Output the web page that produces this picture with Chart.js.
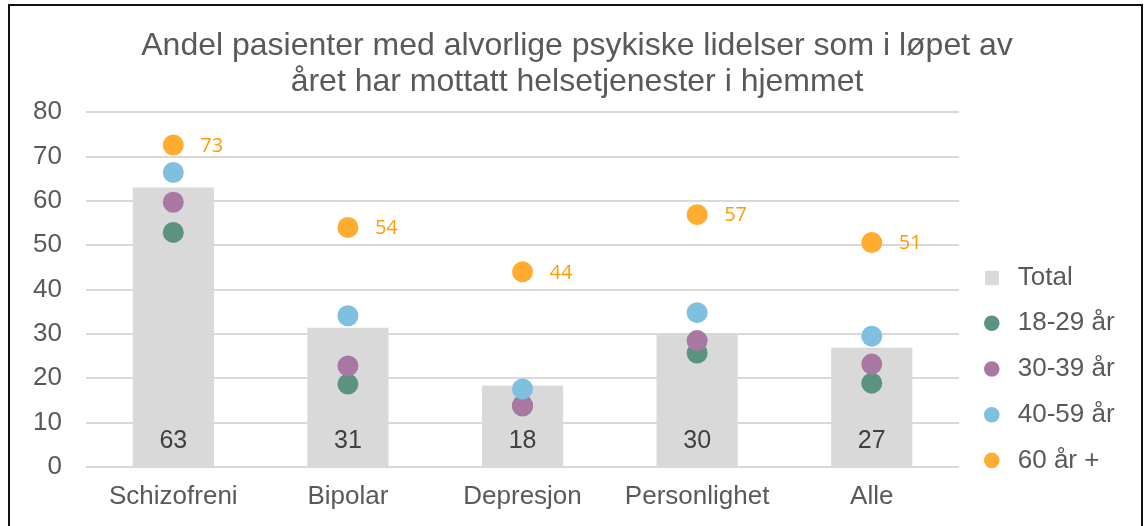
<!DOCTYPE html>
<html>
<head>
<meta charset="utf-8">
<script src="https://cdn.jsdelivr.net/npm/chart.js@4/dist/chart.umd.min.js"></script>
<style>
    body { margin: 0; background: #fff; overflow: hidden; }
    #frame {
        position: absolute;
        left: 8px;
        top: 4px;
        width: 1131px;
        height: 520px;
        border: 2px solid #111;
        background: #fff;
    }
</style>
</head>
<body>
<div id="frame"><canvas id="chart" width="1131" height="520"></canvas></div>
<script>
// Chart data
const categories = ['Schizofreni', 'Bipolar', 'Depresjon', 'Personlighet', 'Alle'];
const total = [63, 31.4, 18.4, 30.1, 26.9];
const age18to29 = [52.9, 18.7, 13.8, 25.7, 18.9];
const age30to39 = [59.7, 22.8, 13.8, 28.5, 23.2];
const age40to59 = [66.4, 34.1, 17.6, 34.8, 29.5];
const age60plus = [72.6, 54, 44, 56.9, 50.6];
const seriesNames = ['Total', '18-29 år', '30-39 år', '40-59 år', '60 år +'];
const titleLines = ['Andel pasienter med alvorlige psykiske lidelser som i løpet av',
                    'året har mottatt helsetjenester i hjemmet'];

const textGrey = '#595959';
const barGrey = '#d9d9d9';
Chart.defaults.font.family = "'Liberation Sans', Arial, sans-serif";
Chart.defaults.color = textGrey;

// Square legend marker for the bar series
const squareMarker = document.createElement('canvas');
squareMarker.width = 14;
squareMarker.height = 14;
squareMarker.getContext('2d').fillStyle = barGrey;
squareMarker.getContext('2d').fillRect(0, 0, 14, 14);

// Dot series, one per age group
function dotSeries(label, data, color, order) {
    return {
        type: 'line',
        label: label,
        data: data,
        showLine: false,
        backgroundColor: color,
        borderColor: color,
        pointBackgroundColor: color,
        pointBorderWidth: 0,
        pointRadius: 10.5,
        pointHoverRadius: 10.5,
        order: order
    };
}

// Draws the value labels: totals at the bar foot, 60+ beside its dot
const valueLabels = {
    id: 'valueLabels',
    afterDatasetsDraw(chart) {
        const ctx = chart.ctx;
        const yScale = chart.scales.y;
        ctx.save();

        const barMeta = chart.getDatasetMeta(0);
        ctx.font = "25px 'Liberation Sans', Arial, sans-serif";
        ctx.fillStyle = '#404040';
        ctx.textAlign = 'center';
        ctx.textBaseline = 'middle';
        barMeta.data.forEach((bar, i) => {
            ctx.fillText(Math.round(total[i]), bar.x, yScale.getPixelForValue(0) - 26);
        });

        const oldMeta = chart.getDatasetMeta(4);
        ctx.font = "20px 'Open Sans', 'Noto Sans', sans-serif";
        ctx.fillStyle = '#ff9c00';
        ctx.textAlign = 'left';
        oldMeta.data.forEach((pt, i) => {
            ctx.fillText(Math.round(age60plus[i]), pt.x + 27, pt.y + 1);
        });
        ctx.restore();
    }
};

new Chart(document.getElementById('chart'), {
    type: 'bar',
    data: {
        labels: categories,
        datasets: [
            {
                type: 'bar',
                label: seriesNames[0],
                data: total,
                backgroundColor: barGrey,
                barPercentage: 1,
                categoryPercentage: 0.465,
                order: 5
            },
            dotSeries(seriesNames[1], age18to29, '#5a9480', 4),
            dotSeries(seriesNames[2], age30to39, '#a878a3', 3),
            dotSeries(seriesNames[3], age40to59, '#7fc0de', 2),
            dotSeries(seriesNames[4], age60plus, '#ffad30', 1)
        ]
    },
    options: {
        responsive: false,
        animation: false,
        layout: { padding: { left: 19.4, right: 16.4, top: 0, bottom: 0 } },
        plugins: {
            title: {
                display: true,
                text: titleLines,
                color: textGrey,
                font: { size: 32, weight: 'normal', lineHeight: 1.12 },
                padding: { top: 22.5, bottom: 12 }
            },
            legend: {
                position: 'right',
                align: 'start',
                fullSize: true,
                title: {
                    display: true,
                    text: '',
                    font: { size: 12, lineHeight: 1.2 },
                    padding: { top: 224.5, bottom: 0 }
                },
                labels: {
                    usePointStyle: true,
                    boxHeight: 11,
                    padding: 19.7,
                    color: textGrey,
                    font: { size: 26 },
                    sort: (a, b) => a.datasetIndex - b.datasetIndex,
                    generateLabels(chart) {
                        const items = Chart.defaults.plugins.legend.labels.generateLabels(chart);
                        items.forEach(item => {
                            item.pointStyle = item.datasetIndex === 0 ? squareMarker : 'circle';
                            item.lineWidth = 0;
                            item.strokeStyle = 'rgba(0,0,0,0)';
                        });
                        return items;
                    }
                }
            },
            tooltip: { enabled: false }
        },
        scales: {
            x: {
                afterFit(scale) { scale.height = 59; },
                grid: { display: false, drawTicks: false },
                border: { display: false },
                ticks: { color: textGrey, font: { size: 26 }, padding: 14.4 }
            },
            y: {
                min: 0,
                max: 80,
                afterFit(scale) { scale.width = 56.6; },
                grid: { color: '#d9d9d9', lineWidth: 2, drawTicks: false },
                border: { display: false },
                ticks: { stepSize: 10, color: textGrey, font: { size: 26 }, padding: 24 }
            }
        }
    },
    plugins: [valueLabels]
});
</script>
</body>
</html>
